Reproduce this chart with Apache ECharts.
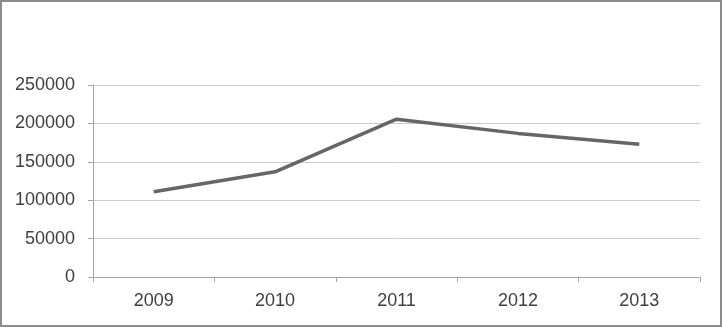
<!DOCTYPE html>
<html>
  <head>
    <meta charset="utf-8">
    <title></title>
    <script src="https://cdn.jsdelivr.net/npm/echarts@6/dist/echarts.min.js"></script>
    <style media="screen">
    html,body{
      height:100%;
      width:100%;
      margin:0px;
      background:#fff;
    }
    #chartDiv{
      position:absolute;
      left:0px;
      top:0px;
      width:723px;
      height:327px;
    }
    #frame{
      position:absolute;
      left:0px;
      top:0px;
      width:718px;
      height:323px;
      border:2px solid #8c8c8c;
      pointer-events:none;
    }
    </style>
  </head>
  <body>
    <div id="chartDiv"></div>
    <div id="frame"></div>
    <script type="text/javascript">
      var years = ['2009', '2010', '2011', '2012', '2013'];
      var values = [111000, 137000, 205500, 187000, 173000];
      var yTicks = [0, 50000, 100000, 150000, 200000, 250000];

      var labelFont = {
        fontFamily: '"Liberation Sans", Arial, sans-serif',
        fontSize: 18,
        color: '#404040'
      };

      var option = {
        animation: false,
        grid: {
          left: 93,
          right: 23,
          top: 85,
          bottom: 50,
          containLabel: false
        },
        xAxis: {
          type: 'category',
          boundaryGap: true,
          data: years,
          axisLine: { lineStyle: { color: '#a6a6a6', width: 1 } },
          axisTick: { show: true, inside: false, length: 5, lineStyle: { color: '#a6a6a6' } },
          axisLabel: Object.assign({ margin: 15 }, labelFont),
          splitLine: { show: false }
        },
        yAxis: {
          type: 'value',
          min: yTicks[0],
          max: yTicks[yTicks.length - 1],
          interval: 50000,
          axisLine: { show: true, lineStyle: { color: '#a6a6a6', width: 1 } },
          axisTick: { show: true, length: 5, lineStyle: { color: '#a6a6a6' } },
          axisLabel: Object.assign({
            margin: 18,
            formatter: function (value) {
              return String(value);
            }
          }, labelFont),
          splitLine: { show: true, lineStyle: { color: '#cccccc', width: 1 } }
        },
        series: [
          {
            type: 'line',
            data: values,
            symbol: 'none',
            smooth: false,
            lineStyle: { color: '#666666', width: 3.5 }
          }
        ]
      };

      var chart = echarts.init(document.getElementById('chartDiv'));
      chart.setOption(option);
    </script>
  </body>
</html>
